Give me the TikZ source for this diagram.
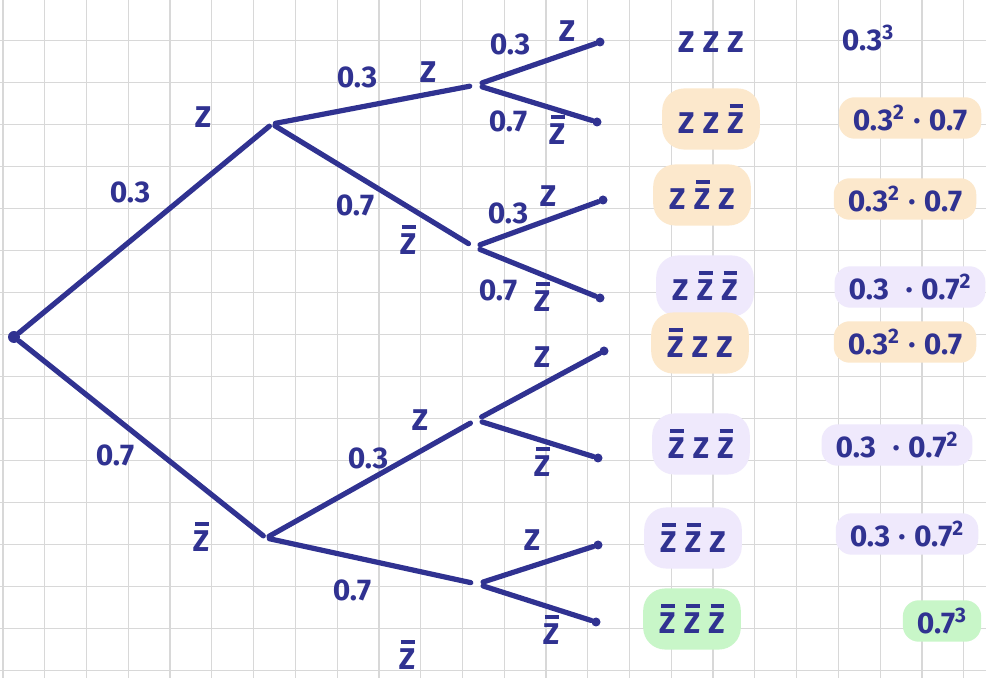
\documentclass[tikz,border=0pt]{standalone}
\usepackage{fontspec}
\setmainfont{Fira Sans}
\usetikzlibrary{positioning}

\definecolor{ink}{RGB}{48,50,145}
\definecolor{peach}{RGB}{252,232,204}
\definecolor{lilac}{RGB}{239,233,252}
\definecolor{mint}{RGB}{200,246,200}
\definecolor{paperline}{RGB}{216,216,216}

% Z with a bar on top
\newcommand{\zb}{\makebox[0pt][l]{\hspace{0.07em}\raisebox{0.86em}{\rule{0.46em}{0.11em}}}Z}

\begin{document}
\begin{tikzpicture}[
  x=0.5pt, y=-0.5pt,
  every node/.style={text=ink, font=\bfseries\fontsize{15}{17}\selectfont},
  paper/.style={draw=paperline, line width=0.6pt},
  branch/.style={draw=ink, line width=2.6pt, line cap=round},
  split/.style={circle, inner sep=0pt, minimum size=#1},
  split/.default=6pt,
  leaf/.style={circle, fill=ink, inner sep=0pt, minimum size=#1},
  leaf/.default=4.5pt,
  lbl/.style={inner sep=1pt},
  combo/.style={rounded corners=11pt, inner xsep=8pt, inner ysep=8pt},
  prob/.style={rounded corners=8pt, inner xsep=7pt, inner ysep=4pt},
]
  \useasboundingbox (0,0) rectangle (986,678);
  \fill[white] (0,0) rectangle (986,678);

  % squared paper
  \foreach \i in {0,...,23}
    \draw[paper] ({3+41.77*\i},0) -- ({3+41.77*\i},678);
  \foreach \j in {1,...,16}
    \draw[paper] (0,{-1.3+42*\j}) -- (986,{-1.3+42*\j});

  % tree
  \node[leaf=6pt] (root) at (14,337) {};
  \node[split=3pt] (z) at (272,124) {};
  \node[split=3pt] (zb) at (266,538) {};
  \node[split] (zz) at (476,85) {};
  \node[split] (zzb) at (474,247) {};
  \node[split] (zbz) at (476,420) {};
  \node[split] (zbzb) at (477,584) {};

  \node[leaf] (l1) at (600,42) {};
  \node[leaf] (l2) at (597,122) {};
  \node[leaf] (l3) at (603,200) {};
  \node[leaf] (l4) at (600,298) {};
  \node[leaf] (l5) at (604,351) {};
  \node[leaf] (l6) at (598,458) {};
  \node[leaf] (l7) at (598,545) {};
  \node[leaf] (l8) at (596,622) {};

  \draw[branch] (root) -- (z);
  \draw[branch] (root) -- (zb);
  \draw[branch] (z) -- (zz);
  \draw[branch] (z) -- (zzb);
  \draw[branch] (zb) -- (zbz);
  \draw[branch] (zb) -- (zbzb);
  \draw[branch] (zz) -- (l1);
  \draw[branch] (zz) -- (l2);
  \draw[branch] (zzb) -- (l3);
  \draw[branch] (zzb) -- (l4);
  \draw[branch] (zbz) -- (l5);
  \draw[branch] (zbz) -- (l6);
  \draw[branch] (zbzb) -- (l7);
  \draw[branch] (zbzb) -- (l8);

  % branch labels
  \node[lbl] (p-z) at (130,192) {0.3};
  \node[lbl] (e-z) at (203,117) {Z};
  \node[lbl] (p-zb) at (115,455) {0.7};
  \node[lbl] (e-zb) at (201,537) {\zb};

  \node[lbl] (p-zz) at (357,77) {0.3};
  \node[lbl] (e-zz) at (428,72) {Z};
  \node[lbl] (p-zzb) at (355,205) {0.7};
  \node[lbl] (e-zzb) at (408,240) {\zb};
  \node[lbl] (p-zbz) at (368,458) {0.3};
  \node[lbl] (e-zbz) at (420,420) {Z};
  \node[lbl] (p-zbzb) at (352,590) {0.7};
  \node[lbl] (e-zbzb) at (407,655) {\zb};

  \node[lbl] (p-l1) at (510,44) {0.3};
  \node[lbl] (e-l1) at (567,31) {Z};
  \node[lbl] (p-l2) at (508,121) {0.7};
  \node[lbl] (e-l2) at (557,130) {\zb};
  \node[lbl] (p-l3) at (508,213) {0.3};
  \node[lbl] (e-l3) at (548,196) {Z};
  \node[lbl] (p-l4) at (498,290) {0.7};
  \node[lbl] (e-l4) at (542,297) {\zb};
  \node[lbl] (e-l5) at (542,357) {Z};
  \node[lbl] (e-l6) at (542,462) {\zb};
  \node[lbl] (e-l7) at (532,540) {Z};
  \node[lbl] (e-l8) at (551,630) {\zb};

  % outcomes
  \node[combo] (c1) at (711,42) {Z\;Z\;Z};
  \node[combo, fill=peach] (c2) at (711,119) {Z\;Z\;\zb};
  \node[combo, fill=peach] (c3) at (702,195) {Z\;\zb\;Z};
  \node[combo, fill=lilac] (c4) at (705,286) {Z\;\zb\;\zb};
  \node[combo, fill=peach] (c5) at (700,343) {\zb\;Z\;Z};
  \node[combo, fill=lilac] (c6) at (701,444) {\zb\;Z\;\zb};
  \node[combo, fill=lilac] (c7) at (693,538) {\zb\;\zb\;Z};
  \node[combo, fill=mint] (c8) at (692,619) {\zb\;\zb\;\zb};

  % probabilities
  \node[prob] (q1) at (868,38) {0.3\textsuperscript{3}};
  \node[prob, fill=peach] (q2) at (910,118) {0.3\textsuperscript{2}\;·\;0.7};
  \node[prob, fill=peach] (q3) at (905,199) {0.3\textsuperscript{2}\;·\;0.7};
  \node[prob, fill=lilac] (q4) at (910,287) {0.3\;\;·\;0.7\textsuperscript{2}};
  \node[prob, fill=peach] (q5) at (905,342) {0.3\textsuperscript{2}\;·\;0.7};
  \node[prob, fill=lilac] (q6) at (897,445) {0.3\;\;·\;0.7\textsuperscript{2}};
  \node[prob, fill=lilac] (q7) at (907,534) {0.3\;·\;0.7\textsuperscript{2}};
  \node[prob, fill=mint] (q8) at (942,621) {0.7\textsuperscript{3}};
\end{tikzpicture}
\end{document}
